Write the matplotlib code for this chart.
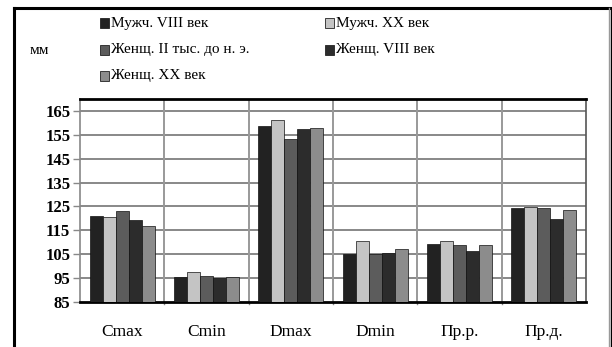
import numpy as np
import matplotlib
matplotlib.use("Agg")
from matplotlib import pyplot as plt
from matplotlib.patches import Rectangle

categories = ["Cmax", "Cmin", "Dmax", "Dmin", "Пр.р.", "Пр.д."]
series_names = ["Мужч. VIII век", "Мужч. XX век", "Женщ. II тыс. до н. э.",
                "Женщ. VIII век", "Женщ. XX век"]
muzh_8 = [121.0, 95.5, 158.9, 105.0, 109.4, 124.2]
muzh_20 = [120.5, 97.4, 161.4, 110.5, 110.5, 124.6]
zhen_2k = [123.0, 95.9, 153.2, 105.0, 108.8, 124.2]
zhen_8 = [119.5, 94.9, 157.3, 105.5, 106.3, 119.9]
zhen_20 = [117.0, 95.5, 157.7, 107.2, 108.8, 123.4]
yticks = [85, 95, 105, 115, 125, 135, 145, 155, 165]

series = [muzh_8, muzh_20, zhen_2k, zhen_8, zhen_20]
colors = ["#222222", "#c4c4c4", "#5c5c5c", "#2c2c2c", "#8c8c8c"]

plt.rcParams["font.family"] = ["Liberation Serif", "DejaVu Serif"]

W, H = 612, 347
fig = plt.figure(figsize=(W / 100, H / 100), dpi=100)
fig.patch.set_facecolor("white")

# outer frame
fig.add_artist(plt.Line2D([14 / W, 14 / W], [0, 1 - 8 / H], color="black", lw=2.2))
fig.add_artist(plt.Line2D([14 / W, 610 / W], [1 - 8 / H, 1 - 8 / H], color="black", lw=2.2))
fig.add_artist(plt.Line2D([609 / W, 609 / W], [0, 1 - 8 / H], color="#999999", lw=1.0))
fig.add_artist(plt.Line2D([611 / W, 611 / W], [0, 1 - 8 / H], color="black", lw=1.0))

left, right, top, bottom = 80, 586, 99, 302
ax = fig.add_axes([left / W, 1 - bottom / H, (right - left) / W, (bottom - top) / H])

n = len(series)
bw = 0.154
x = np.arange(len(categories))
for i, (vals, c) in enumerate(zip(series, colors)):
    ax.bar(x + (i - (n - 1) / 2) * bw, np.array(vals) - 85, bottom=85, width=bw,
           color=c, edgecolor="#111111", linewidth=0.5, zorder=3)

ax.set_xlim(-0.5, len(categories) - 0.5)
ax.set_ylim(85, 170)
ax.set_yticks(yticks)
ax.set_yticklabels([str(v) for v in yticks], fontsize=12, fontweight="bold")
ax.set_xticks(x)
ax.set_xticklabels(categories, fontsize=12.5)
ax.tick_params(axis="x", length=0, pad=16)
ax.tick_params(axis="y", length=5, width=1, color="#888888", pad=2)

for yv in yticks[1:]:
    ax.axhline(yv, color="#888888", lw=1.4, zorder=1)
for xv in np.arange(0.5, len(categories) - 0.5, 1):
    ax.axvline(xv, color="#999999", lw=1.4, zorder=1)
    ax.plot([xv, xv], [85, 84], color="#888888", lw=1, clip_on=False)

ax.spines["top"].set_color("black")
ax.spines["top"].set_linewidth(2.0)
ax.spines["bottom"].set_color("black")
ax.spines["bottom"].set_linewidth(2.0)
ax.spines["left"].set_color("#888888")
ax.spines["left"].set_linewidth(1.2)
ax.spines["right"].set_color("#555555")
ax.spines["right"].set_linewidth(1.2)

# legend laid out in two columns
legend_pos = [(100, 23), (325, 23), (100, 50), (325, 50), (100, 76)]
for (lx, ly), name, c in zip(legend_pos, series_names, colors):
    fig.add_artist(Rectangle((lx / W, 1 - (ly + 5) / H), 9 / W, 10 / H,
                             facecolor=c, edgecolor="#222222", lw=0.6,
                             transform=fig.transFigure))
    fig.text((lx + 11) / W, 1 - ly / H, name, fontsize=11, va="center", ha="left")

fig.text(30 / W, 1 - 50 / H, "мм", fontsize=11, va="center", ha="left")

fig.savefig("out.png", dpi=100, facecolor="white")
